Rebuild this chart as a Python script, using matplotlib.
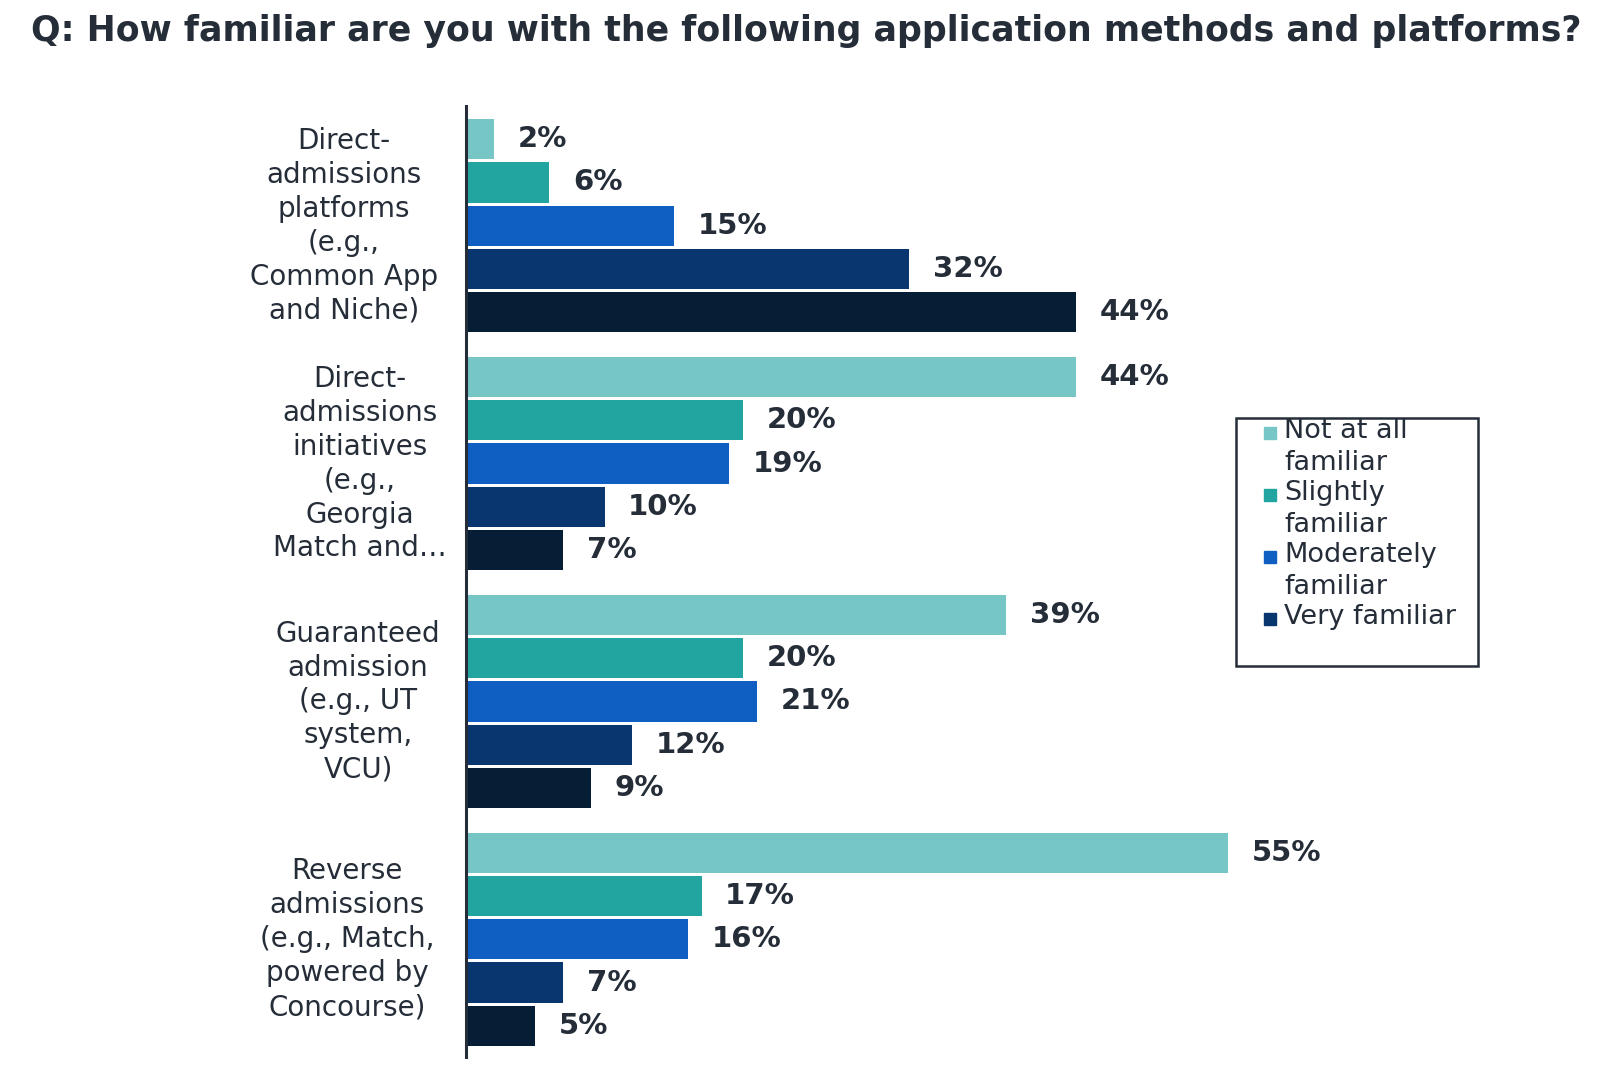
import matplotlib
matplotlib.use('Agg')
import matplotlib.pyplot as plt
import matplotlib.transforms as mtransforms
from matplotlib.patches import Rectangle

# data
categories = [
    'Direct-\nadmissions\nplatforms\n(e.g.,\nCommon App\nand Niche)',
    'Direct-\nadmissions\ninitiatives\n(e.g.,\nGeorgia\nMatch and\u2026',
    'Guaranteed\nadmission\n(e.g., UT\nsystem,\nVCU)',
    'Reverse\nadmissions\n(e.g., Match,\npowered by\nConcourse)',
]
series_names = ['Not at all\nfamiliar', 'Slightly\nfamiliar',
                'Moderately\nfamiliar', 'Very familiar', 'Extremely familiar']
not_at_all = [2, 44, 39, 55]
slightly = [6, 20, 20, 17]
moderately = [15, 19, 21, 16]
very = [32, 10, 12, 7]
extremely = [44, 7, 9, 5]
values = [not_at_all, slightly, moderately, very, extremely]

colors = ['#76c6c5', '#22a5a0', '#0f5ec2', '#0a3670', '#051d35']
text_col = '#252d38'

fig = plt.figure(figsize=(16.16, 10.72), dpi=100)
ax = fig.add_axes([0.2884, 0.014, 0.7116, 0.8872])

group_step = 5.5
for i, (vals, col) in enumerate(zip(values, colors)):
    ys = [g * group_step + i for g in range(len(categories))]
    bars = ax.barh(ys, vals, height=0.93, color=col, edgecolor='none')
    for b, v in zip(bars, vals):
        ax.annotate(f'{v}%', (b.get_width(), b.get_y() + b.get_height() / 2),
                    xytext=(17, 0), textcoords='offset points',
                    va='center', ha='left', fontsize=21, fontweight='heavy',
                    color=text_col)

ax.set_xlim(0, 83)
ax.set_ylim(21.22, -0.77)
for s in ['top', 'right', 'bottom']:
    ax.spines[s].set_visible(False)
ax.spines['left'].set_color(text_col)
ax.spines['left'].set_linewidth(2.2)
ax.set_xticks([])
ax.set_yticks([])

# category labels, each block centred at its own x (as in the reference)
label_x_px = [344, 360, 358, 347]
trans = mtransforms.blended_transform_factory(fig.transFigure, ax.transData)
for g, cat in enumerate(categories):
    ax.text(label_x_px[g] / 1616, g * group_step + 2, cat, transform=trans,
            ha='center', va='center', multialignment='center', fontsize=20,
            color=text_col, linespacing=1.27)

fig.text(0.4988, 0.971,
         'Q: How familiar are you with the following application methods and platforms?',
         ha='center', va='center', fontsize=25, fontweight='bold', color=text_col)

# legend drawn by hand: squares sit on the first line of each label
lx0, ly0 = 1236 / 1616, 1 - 666 / 1072
lw, lh = (1478 - 1236) / 1616, (666 - 418) / 1072
fig.add_artist(Rectangle((lx0, ly0), lw, lh, transform=fig.transFigure,
                         fill=False, edgecolor=text_col, linewidth=1.8))
sq_w, sq_h = 12 / 1616, 12 / 1072
first_line_px = 433
for k in range(4):
    ypx = first_line_px + k * 62
    yc = 1 - ypx / 1072
    fig.add_artist(Rectangle((1264 / 1616, yc - sq_h / 2), sq_w, sq_h,
                             transform=fig.transFigure, color=colors[k]))
    fig.text(1284 / 1616, yc + 15 / 1072, series_names[k], ha='left', va='top',
             fontsize=19.5, color=text_col, linespacing=1.32)

fig.savefig('out.png', dpi=100)
